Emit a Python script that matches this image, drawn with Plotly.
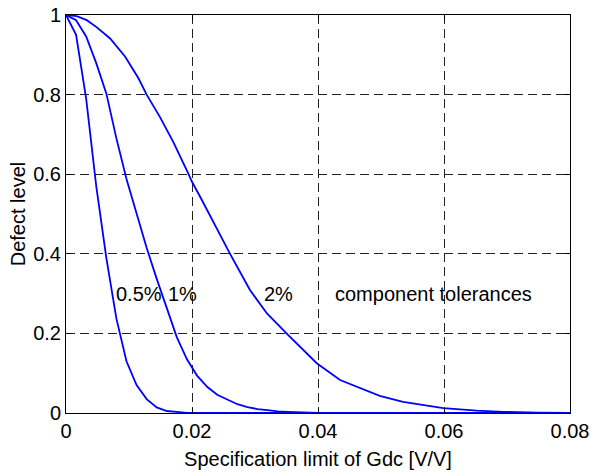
import plotly.graph_objects as go

# 0.5% component tolerance curve
x_05 = [0, 0.0016, 0.0032, 0.0048, 0.0064, 0.008, 0.0096, 0.0112, 0.0128, 0.0144,
        0.016, 0.0176, 0.0192, 0.021, 0.08]
y_05 = [1, 0.95, 0.79, 0.57, 0.39, 0.237, 0.13, 0.07, 0.035, 0.014,
        0.005, 0.002, 0.0005, 0, 0]

# 1% component tolerance curve
x_1 = [0, 0.0016, 0.0032, 0.0048, 0.0064, 0.008, 0.0096, 0.0112, 0.0128, 0.0144,
       0.016, 0.0176, 0.0192, 0.0208, 0.0224, 0.024, 0.0256, 0.0272, 0.0288, 0.0304,
       0.032, 0.0336, 0.0352, 0.0368, 0.04, 0.08]
y_1 = [1, 0.987, 0.946, 0.879, 0.803, 0.69, 0.588, 0.501, 0.415, 0.337,
       0.261, 0.19, 0.135, 0.094, 0.066, 0.046, 0.034, 0.022, 0.015, 0.01,
       0.007, 0.004, 0.003, 0.002, 0.0005, 0]

# 2% component tolerance curve
x_2 = [0, 0.0017, 0.0033, 0.0049, 0.007, 0.0094, 0.0115, 0.0128, 0.0149, 0.017,
       0.0194, 0.02, 0.0215, 0.0238, 0.026, 0.0292, 0.0319, 0.035, 0.0375, 0.0398,
       0.0435, 0.0467, 0.0498, 0.0535, 0.0599, 0.0652, 0.0694, 0.075, 0.08]
y_2 = [1, 0.997, 0.987, 0.969, 0.941, 0.895, 0.841, 0.80, 0.744, 0.682,
       0.602, 0.581, 0.537, 0.466, 0.401, 0.309, 0.25, 0.2, 0.16, 0.125,
       0.083, 0.062, 0.043, 0.028, 0.012, 0.006, 0.003, 0.001, 0]

x_ticks = [0, 0.02, 0.04, 0.06, 0.08]
x_tick_labels = ["0", "0.02", "0.04", "0.06", "0.08"]
y_ticks = [0, 0.2, 0.4, 0.6, 0.8, 1]
y_tick_labels = ["0", "0.2", "0.4", "0.6", "0.8", "1"]

labels = ["0.5%", "1%", "2%", "component tolerances"]
label_x = [0.0077, 0.0161, 0.0313, 0.0426]
label_y = [0.3, 0.3, 0.3, 0.3]

FONT = "Liberation Sans, Arial, Helvetica, sans-serif"
FS = 20

fig = go.Figure()
for xs, ys in [(x_05, y_05), (x_1, y_1), (x_2, y_2)]:
    fig.add_trace(go.Scatter(x=xs, y=ys, mode="lines",
                             line=dict(color="#0000FF", width=1.8),
                             showlegend=False, hoverinfo="skip"))

for t, xx, yy in zip(labels, label_x, label_y):
    fig.add_annotation(x=xx, y=yy, text=t, showarrow=False, xanchor="left",
                       yanchor="middle", xref="x", yref="y",
                       font=dict(family=FONT, size=FS, color="black"),
                       borderpad=0)

axis_common = dict(
    showline=True, linecolor="black", linewidth=1, mirror="ticks",
    ticks="inside", ticklen=5, tickcolor="black", tickwidth=1,
    showgrid=True, gridcolor="#222222", gridwidth=1, griddash="9px,5px",
    zeroline=False, tickfont=dict(family=FONT, size=FS, color="black"),
    automargin=False,
)

fig.update_xaxes(range=[0, 0.08], tickvals=x_ticks, ticktext=x_tick_labels,
                 title=dict(text="Specification limit of Gdc [V/V]",
                            font=dict(family=FONT, size=FS, color="black"),
                            standoff=10),
                 **axis_common)
fig.update_yaxes(range=[0, 1], tickvals=y_ticks, ticktext=y_tick_labels,
                 title=dict(text="Defect level",
                            font=dict(family=FONT, size=FS, color="black"),
                            standoff=2),
                 **axis_common)

fig.update_layout(
    width=591, height=472,
    margin=dict(l=66, r=21, t=15, b=59),
    paper_bgcolor="white", plot_bgcolor="white",
    font=dict(family=FONT, size=FS, color="black"),
)

fig.write_html("out.html", config={"displayModeBar": False},
               post_script="document.body.style.margin='0';document.body.style.padding='0';")
